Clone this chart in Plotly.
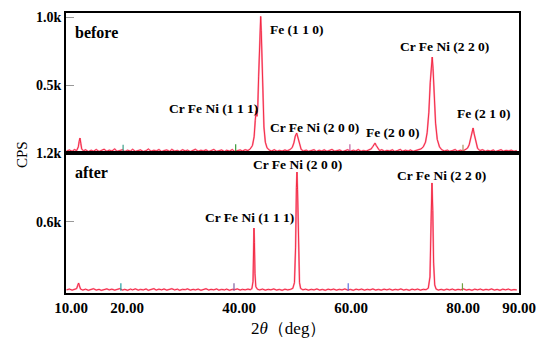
import plotly.graph_objects as go
from plotly.subplots import make_subplots

# ---------------- data ----------------
before_points = [
    (9.2,14),(9.7,22),(10.2,12),(10.6,25),(11.0,18),(11.3,45),(11.45,85),(11.6,110),(11.75,70),(11.9,30),
    (12.2,16),(12.6,24),(13.1,10),(13.6,20),(14.0,13),(14.5,26),(15.0,11),(15.4,19),(15.9,28),(16.4,12),
    (16.8,21),(17.3,15),(17.8,30),(18.2,12),(18.7,18),(19.2,24),(19.6,10),(20.1,20),(20.6,14),(21.0,27),
    (21.5,12),(22.0,19),(22.4,23),(22.9,11),(23.4,17),(23.8,29),(24.3,13),(24.8,20),(25.2,15),(25.7,25),
    (26.2,10),(26.6,18),(27.1,22),(27.6,12),(28.0,26),(28.5,14),(29.0,19),(29.4,11),(29.9,24),(30.4,16),
    (30.8,21),(31.3,10),(31.8,18),(32.2,27),(32.7,13),(33.2,20),(33.6,15),(34.1,23),(34.6,11),(35.0,19),
    (35.5,26),(36.0,12),(36.4,17),(36.9,22),(37.4,10),(37.8,20),(38.3,14),(38.8,25),(39.2,12),(39.7,18),
    (40.2,22),(40.6,15),(41.1,24),(41.6,18),(42.0,30),(42.4,55),(42.7,120),(42.9,240),(43.05,310),(43.2,270),
    (43.35,340),(43.5,560),(43.65,840),(43.78,990),(43.87,1005),(43.97,900),(44.1,640),(44.25,380),(44.45,190),(44.7,80),
    (45.0,38),(45.4,22),(45.8,15),(46.3,24),(46.8,12),(47.2,19),(47.7,14),(48.2,22),(48.6,16),(49.1,25),
    (49.5,40),(49.8,75),(50.05,125),(50.3,147),(50.55,105),(50.8,55),(51.1,26),(51.5,15),(52.0,21),(52.4,12),
    (52.9,18),(53.4,24),(53.8,11),(54.3,20),(54.8,14),(55.2,23),(55.7,12),(56.2,19),(56.6,26),(57.1,13),
    (57.6,17),(58.0,22),(58.5,10),(59.0,18),(59.4,24),(59.9,13),(60.4,20),(60.8,15),(61.3,25),(61.8,12),
    (62.2,18),(62.7,14),(63.2,22),(63.6,30),(63.9,48),(64.1,66),(64.3,73),(64.5,55),(64.8,32),(65.1,18),
    (65.5,24),(66.0,12),(66.4,19),(66.9,15),(67.4,23),(67.8,11),(68.3,18),(68.8,26),(69.2,13),(69.7,20),
    (70.2,15),(70.6,22),(71.1,12),(71.6,19),(72.0,25),(72.5,30),(72.9,45),(73.3,80),(73.6,150),(73.9,300),
    (74.15,520),(74.35,690),(74.5,706),(74.65,620),(74.85,420),(75.1,220),(75.4,100),(75.8,45),(76.2,24),(76.7,15),
    (77.2,21),(77.6,12),(78.1,18),(78.6,25),(79.0,13),(79.5,20),(80.0,15),(80.4,24),(80.8,35),(81.1,60),
    (81.4,115),(81.6,165),(81.8,184),(82.0,140),(82.3,75),(82.6,35),(83.0,18),(83.5,24),(84.0,12),(84.4,19),
    (84.9,14),(85.4,22),(85.8,11),(86.3,18),(86.8,24),(87.2,13),(87.7,19),(88.2,15),(88.6,21),(89.1,12),(89.6,17),
]

after_points = [
    (9.2,8),(9.7,14),(10.2,5),(10.6,12),(11.0,18),(11.2,48),(11.35,67),(11.5,42),(11.7,14),(12.1,6),
    (12.6,13),(13.1,4),(13.6,11),(14.0,17),(14.5,6),(15.0,12),(15.4,3),(15.9,10),(16.4,16),(16.8,7),
    (17.3,13),(17.8,5),(18.2,11),(18.7,18),(19.2,6),(19.6,12),(20.1,4),(20.6,14),(21.0,8),(21.5,16),
    (22.0,5),(22.4,11),(22.9,7),(23.4,15),(23.8,4),(24.3,12),(24.8,18),(25.2,6),(25.7,13),(26.2,8),
    (26.6,15),(27.1,5),(27.6,11),(28.0,17),(28.5,7),(29.0,13),(29.4,4),(29.9,12),(30.4,9),(30.8,16),
    (31.3,5),(31.8,12),(32.2,7),(32.7,14),(33.2,4),(33.6,11),(34.1,17),(34.6,6),(35.0,12),(35.5,8),
    (36.0,15),(36.4,5),(36.9,11),(37.4,7),(37.8,14),(38.3,4),(38.8,12),(39.2,9),(39.7,15),(40.2,6),
    (40.6,12),(41.1,8),(41.6,14),(42.0,9),(42.3,18),(42.5,80),(42.6,330),(42.67,546),(42.75,420),(42.85,150),
    (43.0,35),(43.3,12),(43.7,7),(44.2,14),(44.7,5),(45.2,12),(45.7,8),(46.2,15),(46.7,6),(47.2,11),
    (47.7,4),(48.2,13),(48.7,7),(49.2,12),(49.6,20),(49.9,70),(50.1,380),(50.25,900),(50.35,1034),(50.45,880),
    (50.6,320),(50.8,70),(51.0,20),(51.4,8),(51.9,13),(52.4,5),(52.9,12),(53.4,7),(53.9,15),(54.4,6),
    (54.9,11),(55.4,4),(55.9,13),(56.4,8),(56.9,14),(57.4,5),(57.9,12),(58.4,7),(58.9,15),(59.4,6),
    (59.9,11),(60.4,4),(60.9,13),(61.4,8),(61.9,14),(62.4,5),(62.9,12),(63.4,7),(63.9,15),(64.4,6),
    (64.9,11),(65.4,5),(65.9,13),(66.4,8),(66.9,14),(67.4,5),(67.9,12),(68.4,7),(68.9,15),(69.4,6),
    (69.9,11),(70.4,4),(70.9,13),(71.4,8),(71.9,14),(72.4,5),(72.9,12),(73.4,9),(73.8,22),(74.1,120),
    (74.3,600),(74.46,939),(74.6,700),(74.75,240),(74.95,50),(75.2,14),(75.6,6),(76.1,12),(76.6,5),(77.1,13),
    (77.6,7),(78.1,14),(78.6,5),(79.1,12),(79.6,8),(80.1,15),(80.6,6),(81.1,11),(81.6,4),(82.1,13),
    (82.6,8),(83.1,14),(83.6,5),(84.1,12),(84.6,7),(85.1,15),(85.6,6),(86.1,11),(86.6,4),(87.1,13),
    (87.6,8),(88.1,14),(88.6,5),(89.1,10),(89.6,7),
]

# reference-pattern stick marks (position, height, colour)
ref_before_pos = [19.3, 39.4, 59.8, 80.0]
ref_before_h = [60, 65, 65, 60]
ref_before_col = ["#3aa08a", "#3a9a3a", "#c060a0", "#b09060"]
ref_after_pos = [18.9, 39.1, 59.5, 79.9]
ref_after_h = [65, 65, 65, 65]
ref_after_col = ["#20a0a0", "#8060a0", "#6070e0", "#70a040"]

x_tick_vals = [10, 20, 40, 60, 80, 90]
x_tick_text = ["10.00", "20.00", "40.00", "60.00", "80.00", "90.00"]
before_tick_vals = [500, 1000]
before_tick_text = ["0.5k", "1.0k"]
after_tick_vals = [600, 1200]
after_tick_text = ["0.6k", "1.2k"]

before_labels = [
    ("before", 10.3, 890, 16),
    ("Fe (1 1 0)", 45.2, 905, 13.5),
    ("Cr Fe Ni (1 1 1)", 27.1, 331, 13.5),
    ("Cr Fe Ni (2 0 0)", 45.2, 184, 13.5),
    ("Fe (2 0 0)", 62.3, 154, 13.5),
    ("Cr Fe Ni (2 2 0)", 68.4, 787, 13.5),
    ("Fe (2 1 0)", 78.6, 287, 13.5),
]
after_labels = [
    ("after", 10.3, 1026, 16),
    ("Cr Fe Ni (2 0 0)", 42.1, 1104, 13.5),
    ("Cr Fe Ni (1 1 1)", 33.6, 642, 13.5),
    ("Cr Fe Ni (2 2 0)", 67.85, 1000, 13.5),
]

# ---------------- figure ----------------
SERIF = "Liberation Serif, Times New Roman, serif"

fig = make_subplots(rows=2, cols=1, shared_xaxes=True, vertical_spacing=0)


def add_series(points, row):
    xs = [p[0] for p in points]
    ys = [p[1] for p in points]
    fig.add_trace(go.Scatter(x=xs, y=ys, mode="lines",
                             line=dict(color="#ff9ab4", width=1.8),
                             hoverinfo="skip", showlegend=False), row=row, col=1)
    fig.add_trace(go.Scatter(x=xs, y=ys, mode="lines",
                             line=dict(color="#f02038", width=0.9),
                             showlegend=False), row=row, col=1)


def add_sticks(pos, h, col, row):
    for p, hh, c in zip(pos, h, col):
        fig.add_trace(go.Scatter(x=[p, p], y=[0, hh], mode="lines",
                                 line=dict(color=c, width=1.2),
                                 showlegend=False), row=row, col=1)


add_series(before_points, 1)
add_sticks(ref_before_pos, ref_before_h, ref_before_col, 1)
add_series(after_points, 2)
add_sticks(ref_after_pos, ref_after_h, ref_after_col, 2)

for text, x, y, s in before_labels:
    fig.add_annotation(x=x, y=y, text="<b>%s</b>" % text, showarrow=False,
                       xanchor="left", yanchor="middle",
                       font=dict(family=SERIF, size=s, color="black"), row=1, col=1)
for text, x, y, s in after_labels:
    fig.add_annotation(x=x, y=y, text="<b>%s</b>" % text, showarrow=False,
                       xanchor="left", yanchor="middle",
                       font=dict(family=SERIF, size=s, color="black"), row=2, col=1)

axis_common = dict(showline=True, linecolor="black", linewidth=2, mirror=True,
                   showgrid=False, zeroline=False, automargin=False)

fig.update_xaxes(range=[9.1, 90.0], **axis_common)
fig.update_xaxes(showticklabels=False, ticks="", row=1, col=1)
fig.update_xaxes(tickvals=x_tick_vals, ticktext=["<b>%s</b>" % t for t in x_tick_text],
                 ticks="", tickfont=dict(family=SERIF, size=15, color="black"),
                 row=2, col=1)

fig.update_yaxes(range=[0, 1030], tickvals=before_tick_vals,
                 ticktext=["<b>%s</b>" % t for t in before_tick_text],
                 ticks="inside", ticklen=8, tickcolor="#999999", tickwidth=1,
                 tickfont=dict(family=SERIF, size=14, color="black"),
                 row=1, col=1, **axis_common)
fig.update_yaxes(range=[-20, 1200], tickvals=after_tick_vals,
                 ticktext=["<b>%s</b>" % t for t in after_tick_text],
                 ticks="inside", ticklen=8, tickcolor="#999999", tickwidth=1,
                 tickfont=dict(family=SERIF, size=14, color="black"),
                 row=2, col=1, **axis_common)

fig.update_layout(yaxis=dict(domain=[0.5, 1.0]), yaxis2=dict(domain=[0.0, 0.5]))

fig.add_annotation(text="CPS", xref="paper", yref="paper", x=-0.097, y=0.493,
                   showarrow=False, textangle=-90, xanchor="center", yanchor="middle",
                   font=dict(family=SERIF, size=15, color="black"))
fig.add_annotation(text="2<i>θ</i>（deg）", xref="paper", yref="paper", x=0.492, y=-0.125,
                   showarrow=False, xanchor="center", yanchor="middle",
                   font=dict(family=SERIF, size=17, color="black"))

# the page body adds an 8px offset, so the figure is sized to compensate
fig.update_layout(width=537, height=330,
                  margin=dict(l=58, r=26, t=5, b=45),
                  paper_bgcolor="white", plot_bgcolor="white",
                  showlegend=False)

fig.write_html("out.html")
